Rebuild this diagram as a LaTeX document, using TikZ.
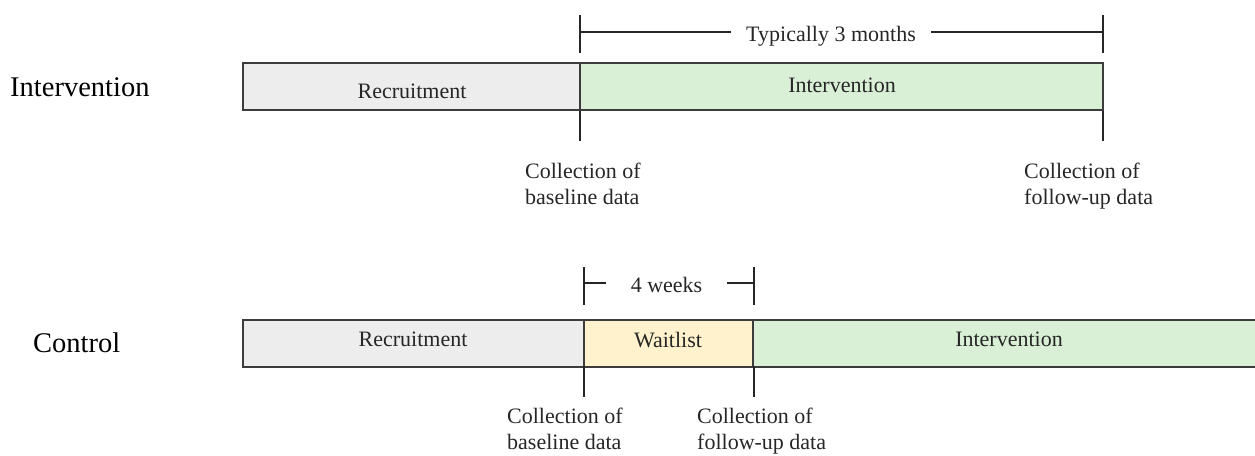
\documentclass[tikz,border=0pt]{standalone}
\usepackage{fontspec}
\setmainfont{Liberation Serif}
\definecolor{grayfill}{HTML}{EDEDED}
\definecolor{greenfill}{HTML}{D9F0D6}
\definecolor{yellowfill}{HTML}{FFF2CC}
\definecolor{edge}{HTML}{3C3C3C}
\begin{document}
\begin{tikzpicture}[x=1pt,y=-1pt,
  bar/.style={draw=edge, line width=1.4pt, inner sep=0pt, outer sep=0pt, minimum height=47pt, anchor=north west},
  txt/.style={font=\fontsize{22}{26}\selectfont, text=black!85, inner sep=0pt},
  rowlabel/.style={font=\fontsize{28.5}{32}\selectfont, inner sep=0pt, anchor=base west},
  note/.style={txt, align=left, anchor=north west},
  tick/.style={draw=black!85, line width=1.4pt},
  dimtxt/.style={txt, inner xsep=15pt, inner ysep=0pt, anchor=base}
]
\useasboundingbox (0,0) rectangle (1255,455);

% Row labels
\node[rowlabel] (lblI) at (10,96) {Intervention};
\node[rowlabel] (lblC) at (33,352) {Control};

% Top bar
\node[bar, fill=grayfill, minimum width=337pt] (rec1) at (243,63) {};
\node[bar, fill=greenfill, minimum width=523pt] (int1) at (580,63) {};
\node[txt, anchor=base] (rec1t) at (412,98) {Recruitment};
\node[txt, anchor=base] (int1t) at (842,92) {Intervention};

% Bottom bar
\node[bar, fill=grayfill, minimum width=341pt] (rec2) at (243,320) {};
\node[bar, fill=yellowfill, minimum width=170pt] (wait) at (584,320) {};
\node[bar, fill=greenfill, minimum width=505pt] (int2) at (753,320) {};
\node[txt, anchor=base] (rec2t) at (413,346) {Recruitment};
\node[txt, anchor=base] (waitt) at (668,347) {Waitlist};
\node[txt, anchor=base] (int2t) at (1009,346) {Intervention};

% Top ticks
\coordinate (a1) at (580,15); \coordinate (a2) at (580,53);
\coordinate (b1) at (1103,15); \coordinate (b2) at (1103,53);
\coordinate (a3) at (580,111); \coordinate (a4) at (580,141);
\coordinate (b3) at (1103,111); \coordinate (b4) at (1103,141);
\coordinate (am) at (580,32); \coordinate (bm) at (1103,32);
\draw[tick] (a1) -- (a2);
\draw[tick] (b1) -- (b2);
\draw[tick] (a3) -- (a4);
\draw[tick] (b3) -- (b4);
\node[dimtxt] (dim1) at (831,41) {Typically 3 months};
\draw[tick] (am) -- (am -| dim1.west);
\draw[tick] (dim1.east |- bm) -- (bm);

% Bottom ticks
\coordinate (c1) at (584,267); \coordinate (c2) at (584,305);
\coordinate (d1) at (754,267); \coordinate (d2) at (754,305);
\coordinate (c3) at (584,366); \coordinate (c4) at (584,397);
\coordinate (d3) at (754,366); \coordinate (d4) at (754,397);
\coordinate (cm) at (584,283); \coordinate (dm) at (754,283);
\draw[tick] (c1) -- (c2);
\draw[tick] (d1) -- (d2);
\draw[tick] (c3) -- (c4);
\draw[tick] (d3) -- (d4);
\node[dimtxt, inner xsep=25pt] (dim2) at (666.5,292) {4 weeks};
\draw[tick] (cm) -- (cm -| dim2.west);
\draw[tick] (dim2.east |- dm) -- (dm);

% Collection notes
\node[note] (n1) at (525,163) {Collection of\\baseline data};
\node[note] (n2) at (1024,163) {Collection of\\follow-up data};
\node[note] (n3) at (507,408) {Collection of\\baseline data};
\node[note] (n4) at (697,408) {Collection of\\follow-up data};
\end{tikzpicture}
\end{document}
